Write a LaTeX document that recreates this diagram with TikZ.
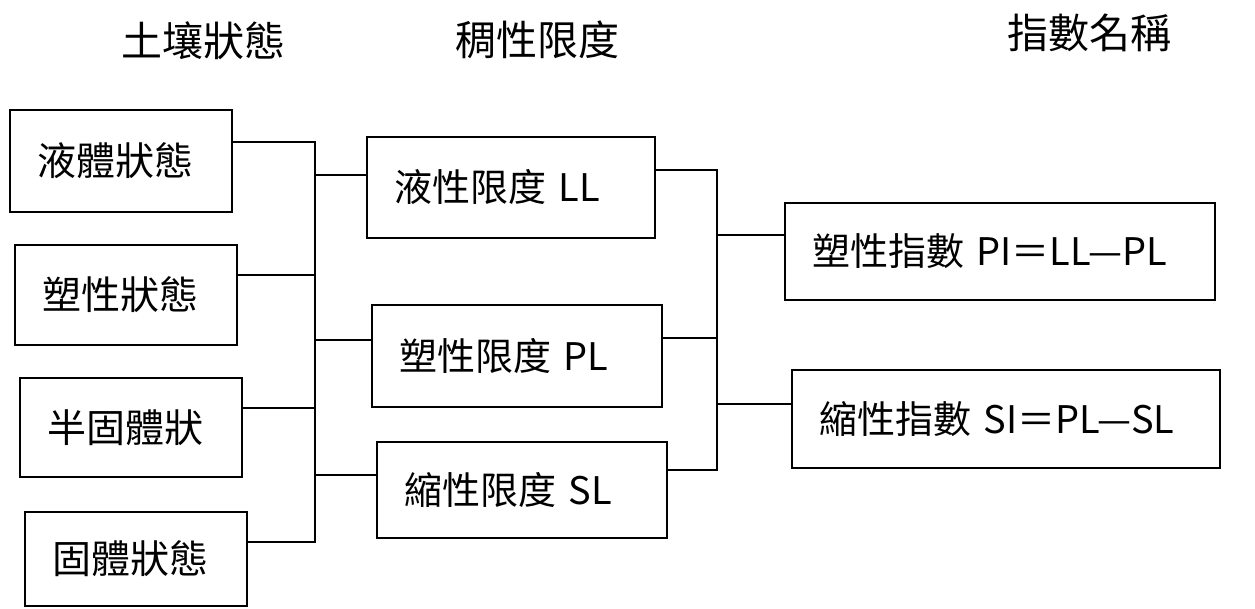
\documentclass[tikz,border=0pt]{standalone}
\usepackage{fontspec}
\setmainfont{Noto Sans CJK TC}
\begin{document}
\begin{tikzpicture}[x=1pt,y=-1pt,
  box/.style={draw,line width=2.8pt,inner xsep=27pt,inner ysep=0pt,align=left,font=\fontsize{39}{42}\selectfont},
  midbox/.style={box,font=\fontsize{38}{42}\selectfont},
  head/.style={font=\fontsize{41}{44}\selectfont,inner sep=0pt},
  conn/.style={line width=2.8pt}]
\useasboundingbox (0,0) rectangle (1255,609);
% headings
\node[head] (h1) at (203,41) {土壤狀態};
\node[head] (h2) at (537,40) {稠性限度};
\node[head] (h3) at (1089,33) {指數名稱};
% left boxes
\node[box,text width=168pt,minimum height=102pt] (b1) at (121,161) {液體狀態};
\node[box,text width=168pt,minimum height=100pt] (b2) at (126,295) {塑性狀態};
\node[box,text width=168pt,minimum height=99pt] (b3) at (131,427.5) {半固體狀};
\node[box,text width=168pt,minimum height=94pt] (b4) at (136,559) {固體狀態};
% middle boxes
\node[midbox,text width=234pt,minimum height=101pt] (m1) at (511,187.5) {液性限度 LL};
\node[midbox,text width=236pt,minimum height=102pt] (m2) at (517,356) {塑性限度 PL};
\node[midbox,text width=236pt,minimum height=96pt] (m3) at (522,490) {縮性限度 SL};
% right boxes
\node[midbox,text width=376pt,minimum height=97pt] (r1) at (1000,251.5) {塑性指數 PI＝LL—PL};
\node[midbox,text width=374pt,minimum height=98pt] (r2) at (1006,419) {縮性指數 SI＝PL—SL};
% left bus
\coordinate (L1) at (315,142);
\coordinate (L2) at (315,275);
\coordinate (L3) at (315,408);
\coordinate (L4) at (315,542);
\coordinate (M1) at (315,175);
\coordinate (M2) at (315,340);
\coordinate (M3) at (315,475);
\draw[conn] (b1.east |- L1) -- (L1) -- (L4) -- (b4.east |- L4);
\draw[conn] (b2.east |- L2) -- (L2);
\draw[conn] (b3.east |- L3) -- (L3);
\draw[conn] (M1) -- (m1.west |- M1);
\draw[conn] (M2) -- (m2.west |- M2);
\draw[conn] (M3) -- (m3.west |- M3);
% right bus
\coordinate (R1) at (717,170);
\coordinate (R2) at (717,338);
\coordinate (R3) at (717,470);
\coordinate (S1) at (717,235);
\coordinate (S2) at (717,404);
\draw[conn] (m1.east |- R1) -- (R1) -- (R3) -- (m3.east |- R3);
\draw[conn] (m2.east |- R2) -- (R2);
\draw[conn] (S1) -- (r1.west |- S1);
\draw[conn] (S2) -- (r2.west |- S2);
\end{tikzpicture}
\end{document}
